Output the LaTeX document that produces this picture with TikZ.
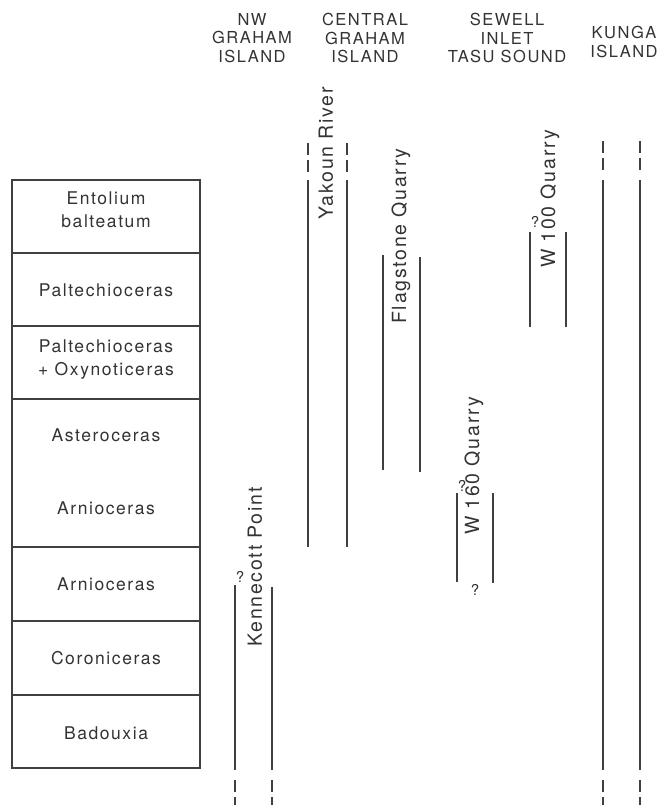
\documentclass[tikz,border=0pt]{standalone}
\usepackage{fontspec}
\setmainfont{TeX Gyre Heros}[LetterSpace=9]
\usepackage{xcolor}
\usepackage{tikz}
\usetikzlibrary{positioning}

\begin{document}
\begin{tikzpicture}[
    x=1pt, y=-1pt,
    zone/.style={draw=black!75, line width=1.1pt},
    zonetext/.style={font=\fontsize{17.5}{23}\selectfont, text=black!80, align=center, inner sep=0pt},
    header/.style={font=\fontsize{16.5}{18.5}\selectfont, text=black!80, align=center, inner sep=0pt},
    rangeline/.style={draw=black!75, line width=1.1pt},
    rangedash/.style={draw=black!75, line width=1.1pt, dash pattern=on 12pt off 5pt},
    site/.style={font=\fontsize{19.5}{20}\selectfont, text=black!80, rotate=90, inner sep=0pt},
    query/.style={font=\fontsize{15}{15}\selectfont, text=black!80, inner sep=0pt},
  ]
  \useasboundingbox (0,0) rectangle (671,805);

  % Zone column
  \draw[zone] (12,180) rectangle (200,768);
  \foreach \y in {253,326,399,547,621,695}
    \draw[zone] (12,\y) -- (200,\y);

  \node[zonetext] (entol) at (106,210) {Entolium\\balteatum};
  \node[zonetext] (paltA) at (106,290) {Paltechioceras};
  \node[zonetext] (paltB) at (106,360) {Paltechioceras\\+ Oxynoticeras};
  \node[zonetext] (aster) at (106,435) {Asteroceras};
  \node[zonetext] (arniA) at (106,508) {Arnioceras};
  \node[zonetext] (arniB) at (106,584) {Arnioceras};
  \node[zonetext] (coron) at (106,658) {Coroniceras};
  \node[zonetext] (badou) at (106,733) {Badouxia};

  % Localities
  \node[header] (nwgraham) at (252,38) {NW\\GRAHAM\\ISLAND};
  \node[header] (cengraham) at (365,38) {CENTRAL\\GRAHAM\\ISLAND};
  \node[header] (sewell) at (507,38) {SEWELL\\INLET\\TASU SOUND};
  \node[header] (kunga) at (624,42) {KUNGA\\ISLAND};

  % Kennecott Point
  \draw[rangeline] (235,585) -- (235,770);
  \draw[rangeline] (272,587) -- (272,770);
  \draw[rangedash] (235,780) -- (235,805);
  \draw[rangedash] (272,780) -- (272,805);
  \node[query] (kenq) at (240,577) {?};
  \node[site] (kennecott) at (255,567) {Kennecott Point};

  % Yakoun River
  \draw[rangedash] (308,143) -- (308,172);
  \draw[rangedash] (347,143) -- (347,172);
  \draw[rangeline] (308,180) -- (308,547);
  \draw[rangeline] (347,180) -- (347,547);
  \node[site] (yakoun) at (326,153) {Yakoun River};

  % Flagstone Quarry
  \draw[rangeline] (383,255) -- (383,470);
  \draw[rangeline] (420,257) -- (420,472);
  \node[site] (flagstone) at (401,236) {Flagstone Quarry};

  % W 160 Quarry
  \draw[rangeline] (457,493) -- (457,582);
  \draw[rangeline] (493,493) -- (493,583);
  \node[query] (wsixq) at (462,486) {?};
  \node[query] (wsixqb) at (475,590) {?};
  \node[site] (wsixty) at (474,466) {W 160 Quarry};

  % W 100 Quarry
  \draw[rangeline] (530,232) -- (530,327);
  \draw[rangeline] (566,232) -- (566,327);
  \node[query] (whunq) at (535,222) {?};
  \node[site] (whundred) at (550,199) {W 100 Quarry};

  % Kunga Island
  \draw[rangedash] (603,141) -- (603,171);
  \draw[rangedash] (640,141) -- (640,171);
  \draw[rangeline] (603,180) -- (603,770);
  \draw[rangeline] (640,180) -- (640,770);
  \draw[rangedash] (603,780) -- (603,805);
  \draw[rangedash] (640,780) -- (640,805);

\end{tikzpicture}
\end{document}
